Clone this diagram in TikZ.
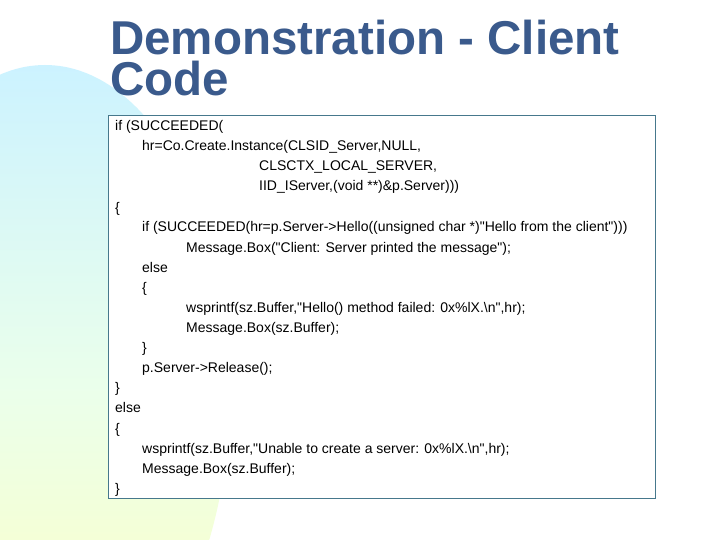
\documentclass[tikz,border=0pt]{standalone}
\usepackage{fontspec}
\setmainfont{Liberation Sans}
\newfontfamily\codefont{Liberation Sans}
\usetikzlibrary{positioning}
\definecolor{titleblue}{RGB}{58,90,140}
\definecolor{boxline}{RGB}{70,120,140}
\tikzset{codeline/.style={anchor=base west,inner sep=0pt,font=\codefont\fontsize{14}{16}\selectfont}}
\begin{document}
\begin{tikzpicture}[x=1pt,y=-1pt]
  \useasboundingbox (0,0) rectangle (720,540);
  \fill[white] (0,0) rectangle (720,540);

  % background blob
  \begin{scope}
    \clip (0,0) rectangle (720,540);
    \shade[top color=blue!25!cyan!20, bottom color=yellow!25, middle color=green!8] (45,390) ellipse (185 and 325);
  \end{scope}

  \node[anchor=base west,inner sep=0pt,font=\fontsize{47.5}{47.5}\bfseries\selectfont,text=titleblue] (title1) at (110,55) {Demonstration - Client};
  \node[anchor=base west,inner sep=0pt,font=\fontsize{47.5}{47.5}\bfseries\selectfont,text=titleblue] (title2) at (110,96) {Code};

  \draw[boxline,fill=white] (108,115) rectangle (655,498);

  \node[codeline] (l1) at (115,131) {if (SUCCEEDED(};
  \node[codeline] (l2) at (142,151) {hr=Co.Create.Instance(CLSID\_Server,NULL,};
  \node[codeline] (l3) at (259,171) {CLSCTX\_LOCAL\_SERVER,};
  \node[codeline] (l4) at (259,191) {IID\_IServer,(void **)\&p.Server)))};
  \node[codeline] (l5) at (115,212) {\{};
  \node[codeline] (l6) at (142,232) {if (SUCCEEDED(hr=p.Server->Hello((unsigned char *)"Hello from the client")))};
  \node[codeline] (l7) at (186,252) {Message.Box("Client: Server printed the message");};
  \node[codeline] (l8) at (142,272) {else};
  \node[codeline] (l9) at (142,292) {\{};
  \node[codeline] (l10) at (186,312) {wsprintf(sz.Buffer,"Hello() method failed: 0x\%lX.\textbackslash n",hr);};
  \node[codeline] (l11) at (186,332) {Message.Box(sz.Buffer);};
  \node[codeline] (l12) at (142,352) {\}};
  \node[codeline] (l13) at (142,372) {p.Server->Release();};
  \node[codeline] (l14) at (115,392) {\}};
  \node[codeline] (l15) at (115,412) {else};
  \node[codeline] (l16) at (115,433) {\{};
  \node[codeline] (l17) at (142,453) {wsprintf(sz.Buffer,"Unable to create a server: 0x\%lX.\textbackslash n",hr);};
  \node[codeline] (l18) at (142,473) {Message.Box(sz.Buffer);};
  \node[codeline] (l19) at (115,493) {\}};
\end{tikzpicture}
\end{document}
